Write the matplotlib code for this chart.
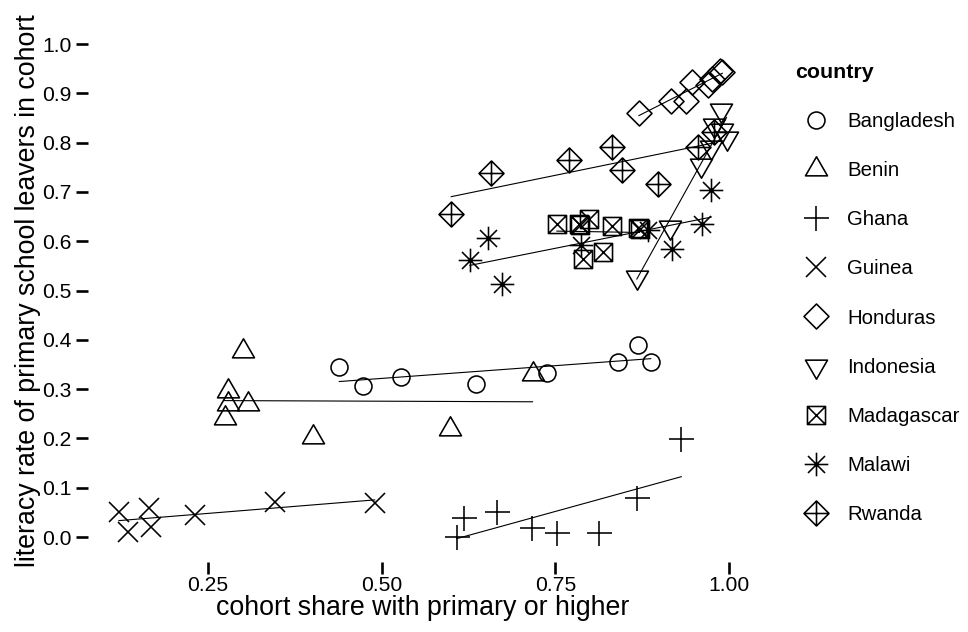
import numpy as np
import matplotlib
matplotlib.use("Agg")
import matplotlib.pyplot as plt
from matplotlib.path import Path
from matplotlib.markers import MarkerStyle
from matplotlib.lines import Line2D

plt.rcParams['font.family'] = ['Liberation Sans', 'DejaVu Sans']

# ---- data ----
countries = ["Bangladesh", "Benin", "Ghana", "Guinea", "Honduras",
             "Indonesia", "Madagascar", "Malawi", "Rwanda"]

bangladesh_x = [0.439, 0.473, 0.528, 0.635, 0.738, 0.840, 0.868, 0.887]
bangladesh_y = [0.345, 0.306, 0.325, 0.310, 0.333, 0.356, 0.389, 0.356]

benin_x = [0.300, 0.279, 0.279, 0.274, 0.308, 0.401, 0.598, 0.717]
benin_y = [0.378, 0.296, 0.270, 0.242, 0.270, 0.203, 0.220, 0.330]

ghana_x = [0.608, 0.618, 0.666, 0.716, 0.752, 0.813, 0.867, 0.931]
ghana_y = [0.000, 0.039, 0.051, 0.018, 0.009, 0.009, 0.080, 0.199]

guinea_x = [0.122, 0.135, 0.165, 0.168, 0.231, 0.346, 0.490]
guinea_y = [0.051, 0.010, 0.059, 0.020, 0.045, 0.071, 0.069]

honduras_x = [0.870, 0.916, 0.938, 0.947, 0.970, 0.975, 0.987, 0.990]
honduras_y = [0.861, 0.885, 0.885, 0.924, 0.917, 0.930, 0.946, 0.944]

indonesia_x = [0.867, 0.914, 0.959, 0.974, 0.978, 0.988, 0.990, 0.996]
indonesia_y = [0.527, 0.629, 0.755, 0.792, 0.836, 0.866, 0.826, 0.809]

madagascar_x = [0.752, 0.784, 0.785, 0.798, 0.790, 0.819, 0.832, 0.868, 0.871]
madagascar_y = [0.635, 0.635, 0.632, 0.646, 0.565, 0.579, 0.631, 0.626, 0.624]

malawi_x = [0.627, 0.653, 0.673, 0.787, 0.883, 0.917, 0.961, 0.974]
malawi_y = [0.562, 0.606, 0.513, 0.592, 0.623, 0.584, 0.636, 0.704]

rwanda_x = [0.600, 0.657, 0.770, 0.832, 0.846, 0.897, 0.955, 0.978]
rwanda_y = [0.655, 0.739, 0.765, 0.792, 0.744, 0.716, 0.792, 0.822]

xs = [bangladesh_x, benin_x, ghana_x, guinea_x, honduras_x,
      indonesia_x, madagascar_x, malawi_x, rwanda_x]
ys = [bangladesh_y, benin_y, ghana_y, guinea_y, honduras_y,
      indonesia_y, madagascar_y, malawi_y, rwanda_y]

x_ticks = [0.25, 0.50, 0.75, 1.00]
x_ticklabels = ["0.25", "0.50", "0.75", "1.00"]
y_ticks = [0.0, 0.1, 0.2, 0.3, 0.4, 0.5, 0.6, 0.7, 0.8, 0.9, 1.0]

# ---- marker shapes (R pch 1,2,3,4,5,6,7,8,9) ----
M, L, C = Path.MOVETO, Path.LINETO, Path.CLOSEPOLY
tri_up = Path([(-1, -0.577), (1, -0.577), (0, 1.155), (-1, -0.577)], [M, L, L, C])
tri_dn = Path([(-1, 0.577), (1, 0.577), (0, -1.155), (-1, 0.577)], [M, L, L, C])
diamond = Path([(0, 1), (1, 0), (0, -1), (-1, 0), (0, 1)], [M, L, L, L, C])
sq_x = Path([(-1, -1), (1, -1), (1, 1), (-1, 1), (-1, -1),
             (-1, -1), (1, 1), (-1, 1), (1, -1)],
            [M, L, L, L, C, M, L, M, L])
d = 0.72
asterisk = Path([(-1, 0), (1, 0), (0, -1), (0, 1), (-d, -d), (d, d), (-d, d), (d, -d)],
                [M, L, M, L, M, L, M, L])
diamond_plus = Path([(0, 1), (1, 0), (0, -1), (-1, 0), (0, 1),
                     (-1, 0), (1, 0), (0, -1), (0, 1)],
                    [M, L, L, L, C, M, L, M, L])

markers = ['o', MarkerStyle(tri_up), '+', 'x', MarkerStyle(diamond),
           MarkerStyle(tri_dn), MarkerStyle(sq_x), MarkerStyle(asterisk),
           MarkerStyle(diamond_plus)]
msizes = [12.2, 18.3, 18.0, 14.0, 18.0, 18.3, 13.0, 17.0, 18.0]
mew = 1.15

# ---- figure ----
W, H = 968, 632
fig = plt.figure(figsize=(W / 100, H / 100), dpi=100)
left_px, right_px, top_px, bot_px = 88.3, 757.1, 19.4, 561.7
ax = fig.add_axes([left_px / W, 1 - bot_px / H,
                   (right_px - left_px) / W, (bot_px - top_px) / H])

handles = []
for name, x, y, mk, ms in zip(countries, xs, ys, markers, msizes):
    x = np.asarray(x); y = np.asarray(y)
    ax.plot(x, y, linestyle='none', marker=mk, markersize=ms,
            markerfacecolor='none', markeredgecolor='black',
            markeredgewidth=mew, zorder=3)
    b, a = np.polyfit(x, y, 1)
    xx = np.array([x.min(), x.max()])
    ax.plot(xx, a + b * xx, color='black', linewidth=0.8, zorder=2)
    handles.append(Line2D([], [], linestyle='none', marker=mk, markersize=ms,
                          markerfacecolor='none', markeredgecolor='black',
                          markeredgewidth=mew, label=name))

ax.set_xlim(0.078, 1.040)
ax.set_ylim(-0.05, 1.05)
ax.set_xticks(x_ticks)
ax.set_xticklabels(x_ticklabels)
ax.set_yticks(y_ticks)
ax.set_yticklabels([f"{v:.1f}" for v in y_ticks])
for s in ax.spines.values():
    s.set_visible(False)
ax.tick_params(axis='both', direction='out', length=8.3, width=1.9,
               color='black', labelsize=15.2, labelcolor='black', pad=3.5)
ax.tick_params(axis='x', pad=2)
ax.set_xlabel("cohort share with primary or higher", fontsize=19.3, labelpad=0)
ax.set_ylabel("literacy rate of primary school leavers in cohort", fontsize=19.3, labelpad=1)

leg = fig.legend(handles=handles, loc='upper left',
                 bbox_to_anchor=(795 / W, 1 - 62.5 / H),
                 frameon=False, fontsize=14.7, title="country",
                 title_fontproperties={'weight': 'bold', 'size': 15.4},
                 alignment='left', borderpad=0, borderaxespad=0,
                 handlelength=2.1, handletextpad=0.45, labelspacing=1.48)

fig.savefig("out.png", dpi=100)
